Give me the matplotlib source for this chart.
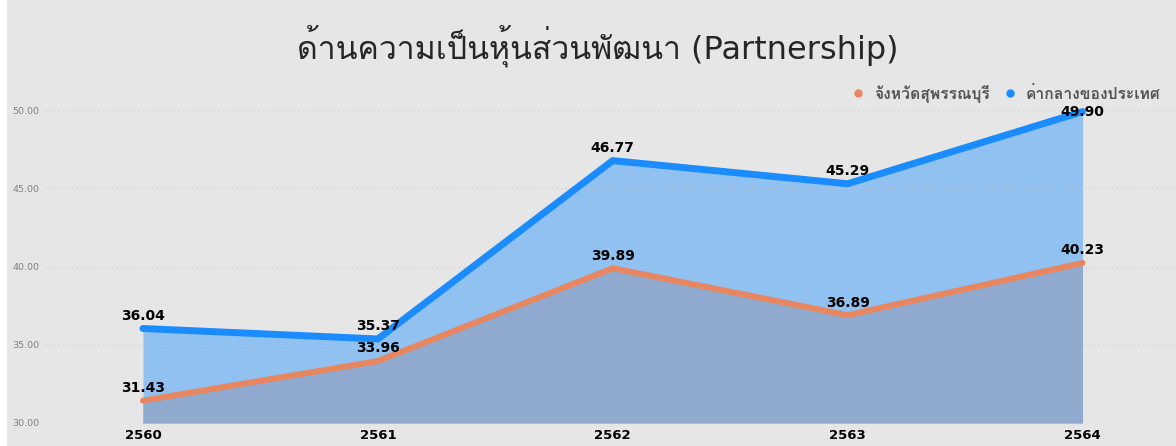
"""Partnership dimension: province vs national average, area + line chart."""

import matplotlib

matplotlib.use("Agg")

import matplotlib.pyplot as plt  # noqa: E402
from matplotlib import font_manager  # noqa: E402
from matplotlib.ft2font import FT2Font  # noqa: E402
from matplotlib.patches import Rectangle  # noqa: E402

years = ["2560", "2561", "2562", "2563", "2564"]
province = [31.43, 33.96, 39.89, 36.89, 40.23]
national = [36.04, 35.37, 46.77, 45.29, 49.90]
series_names = ["จังหวัดสุพรรณบุรี", "ค่ากลางของประเทศ"]
title = "ด้านความเป็นหุ้นส่วนพัฒนา (Partnership)"
y_ticks = [30, 35, 40, 45, 50]


def _thai_family():
    # look for any installed face that can actually draw Thai
    for entry in font_manager.fontManager.ttflist:
        try:
            if 0x0E14 in FT2Font(entry.fname).get_charmap():
                return entry.name
        except Exception:
            continue
    return None


thai = _thai_family()
families = ["DejaVu Sans", thai] if thai else ["DejaVu Sans"]
plt.rcParams["font.family"] = families

BG = "#e6e6e6"
BLUE = "#1a8cff"
ORANGE = "#e8875f"
Y_TOP = 50.95

fig = plt.figure(figsize=(11.76, 4.46), dpi=100, facecolor=BG)
fig.patches.append(Rectangle((0, 0), 7 / 1176, 1, transform=fig.transFigure,
                             facecolor="white", edgecolor="none", zorder=0))
ax = fig.add_axes([45 / 1176, 23 / 446, 1 - 45 / 1176, 0.735])
ax.set_facecolor(BG)

x = list(range(len(years)))
base = y_ticks[0]
ax.fill_between(x, base, national, color="#90c1f1", linewidth=0, zorder=1)
ax.fill_between(x, base, province, color="#8faace", linewidth=0, zorder=2)
ax.plot(x, national, color=BLUE, linewidth=5, solid_capstyle="round", zorder=4)
ax.plot(x, province, color=ORANGE, linewidth=4.3, solid_capstyle="round", zorder=3)


def _label(xi, v):
    # no head room near the top: sit the label on the point itself
    if v > Y_TOP - 1.5:
        off, va = (0, 0), "center"
    else:
        off, va = (0, 4), "bottom"
    ax.annotate(f"{v:.2f}", (xi, v), textcoords="offset points", xytext=off,
                ha="center", va=va, fontsize=10, fontweight="bold",
                color="black", zorder=5)


for xi, v in zip(x, national):
    _label(xi, v)
for xi, v in zip(x, province):
    _label(xi, v)

ax.set_xlim(-0.417, 4.398)
ax.set_ylim(base, Y_TOP)
ax.set_yticks(y_ticks)
ax.set_yticklabels([f"{t:.2f}" for t in y_ticks], fontsize=6.8, color="#808080")
ax.set_xticks(x)
ax.set_xticklabels(years, fontsize=9.5, fontweight="bold", color="black")
ax.tick_params(length=0, pad=4)
ax.tick_params(axis="y", pad=-2)
for lbl in ax.get_yticklabels():
    lbl.set_horizontalalignment("left")
    lbl.set_x(-0.031)
ax.grid(axis="y", linestyle=(0, (1, 3)), color="#c8c8c8", linewidth=0.8, zorder=0)
for s in ax.spines.values():
    s.set_visible(False)

fig.text(0.508, 0.898, title, ha="center", va="center", fontsize=23, color="#262626")

handles = [
    plt.Line2D([], [], marker="o", linestyle="none", color=ORANGE, markersize=5),
    plt.Line2D([], [], marker="o", linestyle="none", color=BLUE, markersize=5),
]
fig.legend(handles, series_names, loc="center right", bbox_to_anchor=(0.999, 0.79),
           ncol=2, frameon=False, handletextpad=0.0, columnspacing=0.3,
           labelcolor="#555555", prop={"family": families, "weight": "bold", "size": 11.3})

fig.savefig("out.png", dpi=100, facecolor=BG)
